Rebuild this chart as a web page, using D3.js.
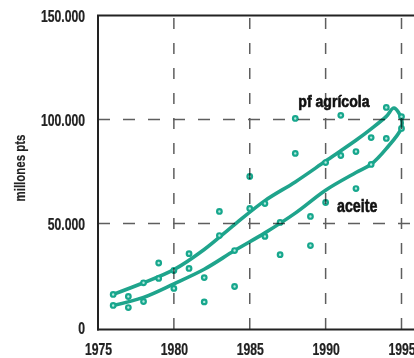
<!DOCTYPE html>
<html><head><meta charset="utf-8">
<script src="https://cdn.jsdelivr.net/npm/d3@7/dist/d3.min.js"></script>
<style>
html,body{margin:0;padding:0;background:#fff;}
svg{display:block;}
</style></head>
<body>
<script>
const years = [1976,1977,1978,1979,1980,1981,1982,1983,1984,1985,1986,1987,1988,1989,1990,1991,1992,1993,1994,1995];
const pfAgricola = [15900,14900,21500,31000,27400,35500,24000,55800,37000,72600,59600,50500,100500,53400,79300,102000,84600,91300,105800,101400];
const aceite = [10600,9600,12500,23600,18800,28400,12300,44200,19700,57200,43800,35000,83700,39400,60100,82700,66800,78400,90900,95700];

const pfTrendYears = [1976,1978,1980,1982,1984,1986,1988,1990,1992,1993,1994,1994.5,1995];
const pfTrend = [15900,21500,27800,37500,49500,61000,70000,80000,90000,95500,101500,105500,100500];
const aceiteTrendYears = [1976,1978,1980,1982,1984,1986,1988,1990,1992,1993,1994,1995];
const aceiteTrend = [10600,14500,21000,28000,37000,45500,55000,66000,74500,78500,86000,96000];

const xTicks = [1975,1980,1985,1990,1995];
const yTicks = [0,50000,100000,150000];
const gridX = [1980,1985,1990,1995];
const gridY = [50000,100000];
const labels = [
  {text:"pf agrícola", year:1988.2, value:106000, size:16, sx:0.88},
  {text:"aceite", year:1990.75, value:55500, size:19, sx:0.75}
];

const W = 414, H = 358;
const teal = "#1fa48c";
const font = "'Liberation Sans',Arial,sans-serif";

const x = d3.scaleLinear().domain([1975,1995]).range([98,401.5]);
const y = d3.scaleLinear().domain([0,150000]).range([327.5,15.5]);

const svg = d3.select("body").append("svg").attr("width",W).attr("height",H);

function ctext(sel, tx, ty, size, sx, anchor, fill, rot, sw){
  return sel.append("text")
    .attr("transform",`translate(${tx},${ty})${rot?` rotate(${rot})`:""} scale(${sx},1)`)
    .attr("text-anchor",anchor)
    .attr("font-family",font).attr("font-size",size).attr("font-weight","bold").attr("fill",fill)
    .attr("stroke",sw?fill:"none").attr("stroke-width",sw||0);
}

// trend loop
const pts = pfTrendYears.map((yr,i)=>[yr,pfTrend[i]])
  .concat(aceiteTrendYears.map((yr,i)=>[yr,aceiteTrend[i]]).reverse());
const line = d3.line().x(d=>x(d[0])).y(d=>y(d[1])).curve(d3.curveCatmullRom.alpha(0.5));
svg.append("path").attr("d",line(pts)).attr("fill","none")
  .attr("stroke",teal).attr("stroke-width",3.6).attr("stroke-linejoin","round").attr("stroke-linecap","round");

// points
const allPts = years.map((yr,i)=>[yr,pfAgricola[i]]).concat(years.map((yr,i)=>[yr,aceite[i]]));
svg.append("g").selectAll("circle").data(allPts).join("circle")
  .attr("cx",d=>x(d[0])).attr("cy",d=>y(d[1])).attr("r",2.3)
  .attr("fill","#b5eadf").attr("stroke","#17a78d").attr("stroke-width",2.2);

// grid (multiply so marks underneath darken)
const g = svg.append("g").style("mix-blend-mode","multiply");
g.selectAll(".gx").data(gridX).join("line")
  .attr("x1",d=>x(d)).attr("x2",d=>x(d)).attr("y1",16).attr("y2",329)
  .attr("stroke","#5e5e5e").attr("stroke-width",1.5).attr("stroke-dasharray","11,14").attr("stroke-dashoffset",-2);
g.selectAll(".gy").data(gridY).join("line")
  .attr("x1",98).attr("x2",W).attr("y1",d=>y(d)).attr("y2",d=>y(d))
  .attr("stroke","#5e5e5e").attr("stroke-width",1.5).attr("stroke-dasharray","12,13");

// frame
svg.append("line").attr("x1",98).attr("x2",98).attr("y1",15).attr("y2",330.5).attr("stroke","#222").attr("stroke-width",2);
svg.append("line").attr("x1",97).attr("x2",W).attr("y1",15.5).attr("y2",15.5).attr("stroke","#222").attr("stroke-width",2);
svg.append("line").attr("x1",97).attr("x2",W).attr("y1",329.5).attr("y2",329.5).attr("stroke","#222").attr("stroke-width",2);

// y tick labels
const gyl = svg.append("g");
yTicks.forEach(v=>{
  ctext(gyl, 85, y(v)+6.5, 16.5, 0.74, "end", "#222", 0, 0.25).text(d3.format(",")(v).replace(/,/g,"."));
});

// x tick labels
const gxl = svg.append("g");
xTicks.forEach(v=>{
  ctext(gxl, x(v)+0.5, 355, 16.5, 0.74, "middle", "#222", 0, 0.25).text(v);
});

// y title
ctext(svg, 25, 168, 15.5, 0.74, "middle", "#222", -90, 0.2).text("millones pts");

// series labels
labels.forEach(d=>{
  ctext(svg, x(d.year), y(d.value), d.size, d.sx, "start", "#111", 0, 0.6).text(d.text);
});
</script>
</body></html>
